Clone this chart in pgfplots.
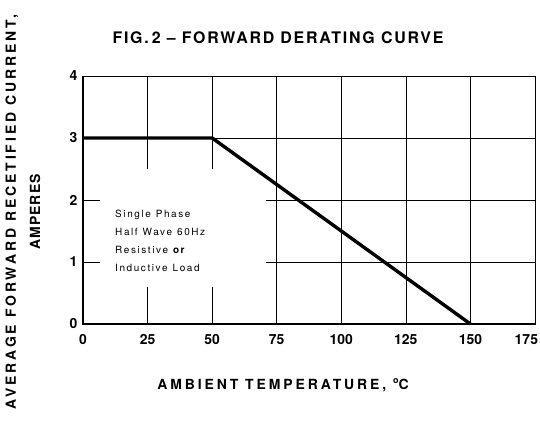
\documentclass[border=0pt]{standalone}
\usepackage{fontspec}
\setmainfont{TeX Gyre Heros}
\usepackage{pgfplots}
\pgfplotsset{compat=1.18}
\begin{document}
\begin{tikzpicture}
\begin{axis}[
  at={(83bp,100bp)}, anchor=origin,
  scale only axis, width=452bp, height=248bp,
  xmin=0, xmax=175, ymin=0, ymax=4,
  xtick={0,25,50,75,100,125,150,175},
  xticklabels={0,25,50,75,100,125,150,\makebox[0pt][r]{175\kern-3bp}},
  ytick={0,1,2,3,4},
  grid=major,
  major grid style={black, line width=0.7bp},
  tick style={draw=none},
  axis line style={black, line width=0.8bp},
  /pgf/number format/assume math mode=true,
  ticklabel style={font=\bfseries\fontsize{14}{14}\selectfont},
  xticklabel style={yshift=-7bp},
  yticklabel style={xshift=-2bp},
  clip=false,
]
\fill[white] (axis cs:6.6,0.6) rectangle (axis cs:71,2.5);
\draw[black, line width=2bp] (rel axis cs:0,1) -- (rel axis cs:0,0) -- (rel axis cs:1,0);
\addplot[black, line width=3.4bp, line join=miter] coordinates {(0,3) (50,3) (150,0)};
\node[anchor=north west, align=left, inner sep=0pt,
      font=\fontsize{10}{18}\selectfont\addfontfeature{LetterSpace=16}]
  at (axis cs:12.4,1.84) {Single\hspace{5bp}Phase\\Half\hspace{5bp}Wave\hspace{5bp}60Hz\\Resistive\hspace{5bp}{\bfseries or}\\Inductive\hspace{5bp}Load};
\end{axis}
\node[font=\bfseries\fontsize{16}{16}\selectfont\addfontfeature{LetterSpace=11}] at (278bp,386bp) {FIG.\hspace{3bp}2 -- FORWARD DERATING CURVE};
\node[font=\bfseries\fontsize{14}{14}\selectfont\addfontfeature{LetterSpace=21}] at (283bp,39bp) {AMBIENT TEMPERATURE, \raisebox{0.45em}{\fontsize{9}{9}\selectfont o}C};
\node[rotate=90, font=\bfseries\fontsize{14}{14}\selectfont\addfontfeature{LetterSpace=21}] at (12bp,212bp) {AVERAGE FORWARD RECETIFIED CURRENT,};
\node[rotate=90, font=\bfseries\fontsize{14}{14}\selectfont\addfontfeature{LetterSpace=8}] at (35bp,212bp) {AMPERES};
\pgfresetboundingbox
\path[use as bounding box] (0,0) rectangle (540bp,424bp);
\end{tikzpicture}
\end{document}
